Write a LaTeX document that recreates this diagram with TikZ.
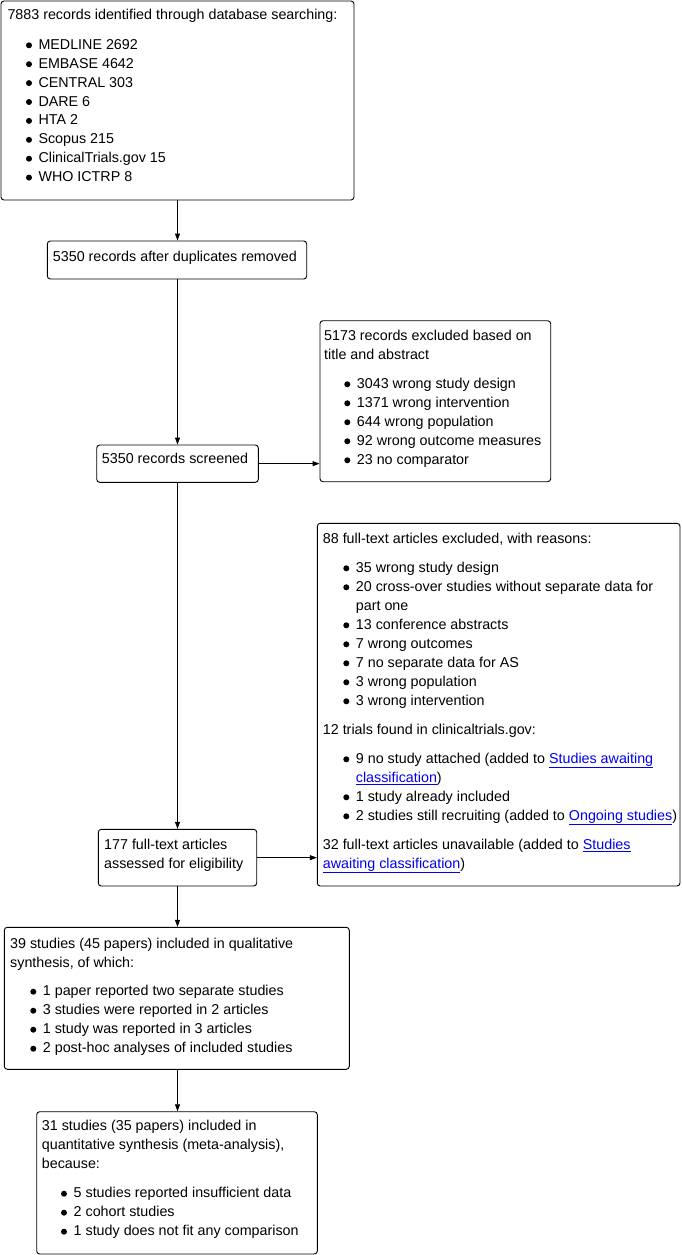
\documentclass[tikz,border=0pt]{standalone}
\usepackage{fontspec}
\setmainfont{Liberation Sans}
\usetikzlibrary{arrows.meta}
\definecolor{linkblue}{RGB}{0,0,238}
\newcommand{\lnk}[1]{\textcolor{linkblue}{\underline{#1}}}
\begin{document}
\begin{tikzpicture}[x=1pt,y=-1pt,
  box/.style={draw, line width=0.9pt, rounded corners=3pt, inner sep=0pt},
  txt/.style={anchor=base west, inner sep=0pt, font=\fontsize{14.3}{19}\selectfont},
  bul/.style={circle, fill, inner sep=0pt, minimum size=6pt},
  arr/.style={-{Triangle[length=7pt,width=5pt]}, line width=0.9pt}]
\useasboundingbox (0,0) rectangle (681,1255);

% boxes
\node[box, minimum width=353pt, minimum height=199pt] (b1) at (177.5,100.5) {};
\node[box, minimum width=259.4pt, minimum height=38pt] (b2) at (177,260) {};
\node[box, minimum width=230.7pt, minimum height=161pt] (b3) at (435.35,401.2) {};
\node[box, minimum width=161.6pt, minimum height=37.3pt] (b4) at (177.5,463.65) {};
\node[box, minimum width=362.7pt, minimum height=362.7pt] (b5) at (498.65,704.65) {};
\node[box, minimum width=158.4pt, minimum height=56.7pt] (b6) at (177.5,857.65) {};
\node[box, minimum width=345pt, minimum height=142pt] (b7) at (176.8,998.3) {};
\node[box, minimum width=280.6pt, minimum height=142.3pt] (b8) at (177,1182.85) {};

% connectors
\draw[arr] (b1.south) -- (b1.south |- b2.north);
\draw[arr] (b1.south |- b2.south) -- (b1.south |- b4.north);
\draw[arr] (b1.south |- b4.south) -- (b1.south |- b6.north);
\draw[arr] (b1.south |- b6.south) -- (b1.south |- b7.north);
\draw[arr] (b1.south |- b7.south) -- (b1.south |- b8.north);
\draw[arr] (b4.east) -- (b4.east -| b3.west);
\draw[arr] (b6.east) -- (b6.east -| b5.west);

% box 1
\node[txt] (t1) at (7.3,19.5) {7883 records identified through database searching:};
\foreach \t [count=\i from 0] in {MEDLINE 2692, EMBASE 4642, CENTRAL 303, DARE 6, HTA 2, Scopus 215, ClinicalTrials.gov 15, WHO ICTRP 8} {
  \node[bul] (d1\i) at (29,{49.3+18.9*\i-4}) {};
  \node[txt] (i1\i) at (38.3,{49.3+18.9*\i}) {\t};
}

% box 2
\node[txt] (t2) at (52.7,261.7) {5350 records after duplicates removed};

% box 3
\node[txt] (t3a) at (324,340.7) {5173 records excluded based on};
\node[txt] (t3b) at (324,359.3) {title and abstract};
\foreach \t [count=\i from 0] in {3043 wrong study design, 1371 wrong intervention, 644 wrong population, 92 wrong outcome measures, 23 no comparator} {
  \node[bul] (d3\i) at (347.3,{388.3+19*\i-4}) {};
  \node[txt] (i3\i) at (356.7,{388.3+19*\i}) {\t};
}

% box 4
\node[txt] (t4) at (101.7,463.3) {5350 records screened};

% box 5
\node[txt] (t5a) at (322.7,543.3) {88 full-text articles excluded, with reasons:};
\foreach \y/\t [count=\i] in {572.3/35 wrong study design, 591.3/20 cross-over studies without separate data for, 629.3/13 conference abstracts, 648.3/7 wrong outcomes, 667.3/7 no separate data for AS, 686.3/3 wrong population, 705.3/3 wrong intervention} {
  \node[bul] (d5\i) at (346.3,{\y-4}) {};
  \node[txt] (i5\i) at (355.7,\y) {\t};
}
\node[txt] (i5c) at (355.7,610.3) {part one};
\node[txt] (t5b) at (322.7,734.3) {12 trials found in clinicaltrials.gov:};
\node[bul] (d5j) at (346.3,759.3) {};
\node[txt] (i5j) at (355.7,763.3) {9 no study attached (added to \lnk{Studies awaiting}};
\node[txt] (i5k) at (355.7,782.3) {\lnk{classification})};
\node[bul] (d5l) at (346.3,797.3) {};
\node[txt] (i5l) at (355.7,801.3) {1 study already included};
\node[bul] (d5m) at (346.3,816.3) {};
\node[txt] (i5m) at (355.7,820.3) {2 studies still recruiting (added to \lnk{Ongoing studies})};
\node[txt] (t5c) at (322.7,849.3) {32 full-text articles unavailable (added to \lnk{Studies}};
\node[txt] (t5d) at (322.7,868.3) {\lnk{awaiting classification})};

% box 6
\node[txt] (t6a) at (104,849) {177 full-text articles};
\node[txt] (t6b) at (104,868.3) {assessed for eligibility};

% box 7
\node[txt] (t7a) at (10,948.3) {39 studies (45 papers) included in qualitative};
\node[txt] (t7b) at (10,967.3) {synthesis, of which:};
\foreach \t [count=\i from 0] in {1 paper reported two separate studies, 3 studies were reported in 2 articles, 1 study was reported in 3 articles, 2 post-hoc analyses of included studies} {
  \node[bul] (d7\i) at (33.3,{995.7+19*\i-4}) {};
  \node[txt] (i7\i) at (42.7,{995.7+19*\i}) {\t};
}

% box 8
\node[txt] (t8a) at (41.7,1130.7) {31 studies (35 papers) included in};
\node[txt] (t8b) at (41.7,1149.7) {quantitative synthesis (meta-analysis),};
\node[txt] (t8c) at (41.7,1168.7) {because:};
\foreach \t [count=\i from 0] in {5 studies reported insufficient data, 2 cohort studies, 1 study does not fit any comparison} {
  \node[bul] (d8\i) at (64,{1197.7+19*\i-4}) {};
  \node[txt] (i8\i) at (73.5,{1197.7+19*\i}) {\t};
}
\end{tikzpicture}
\end{document}
